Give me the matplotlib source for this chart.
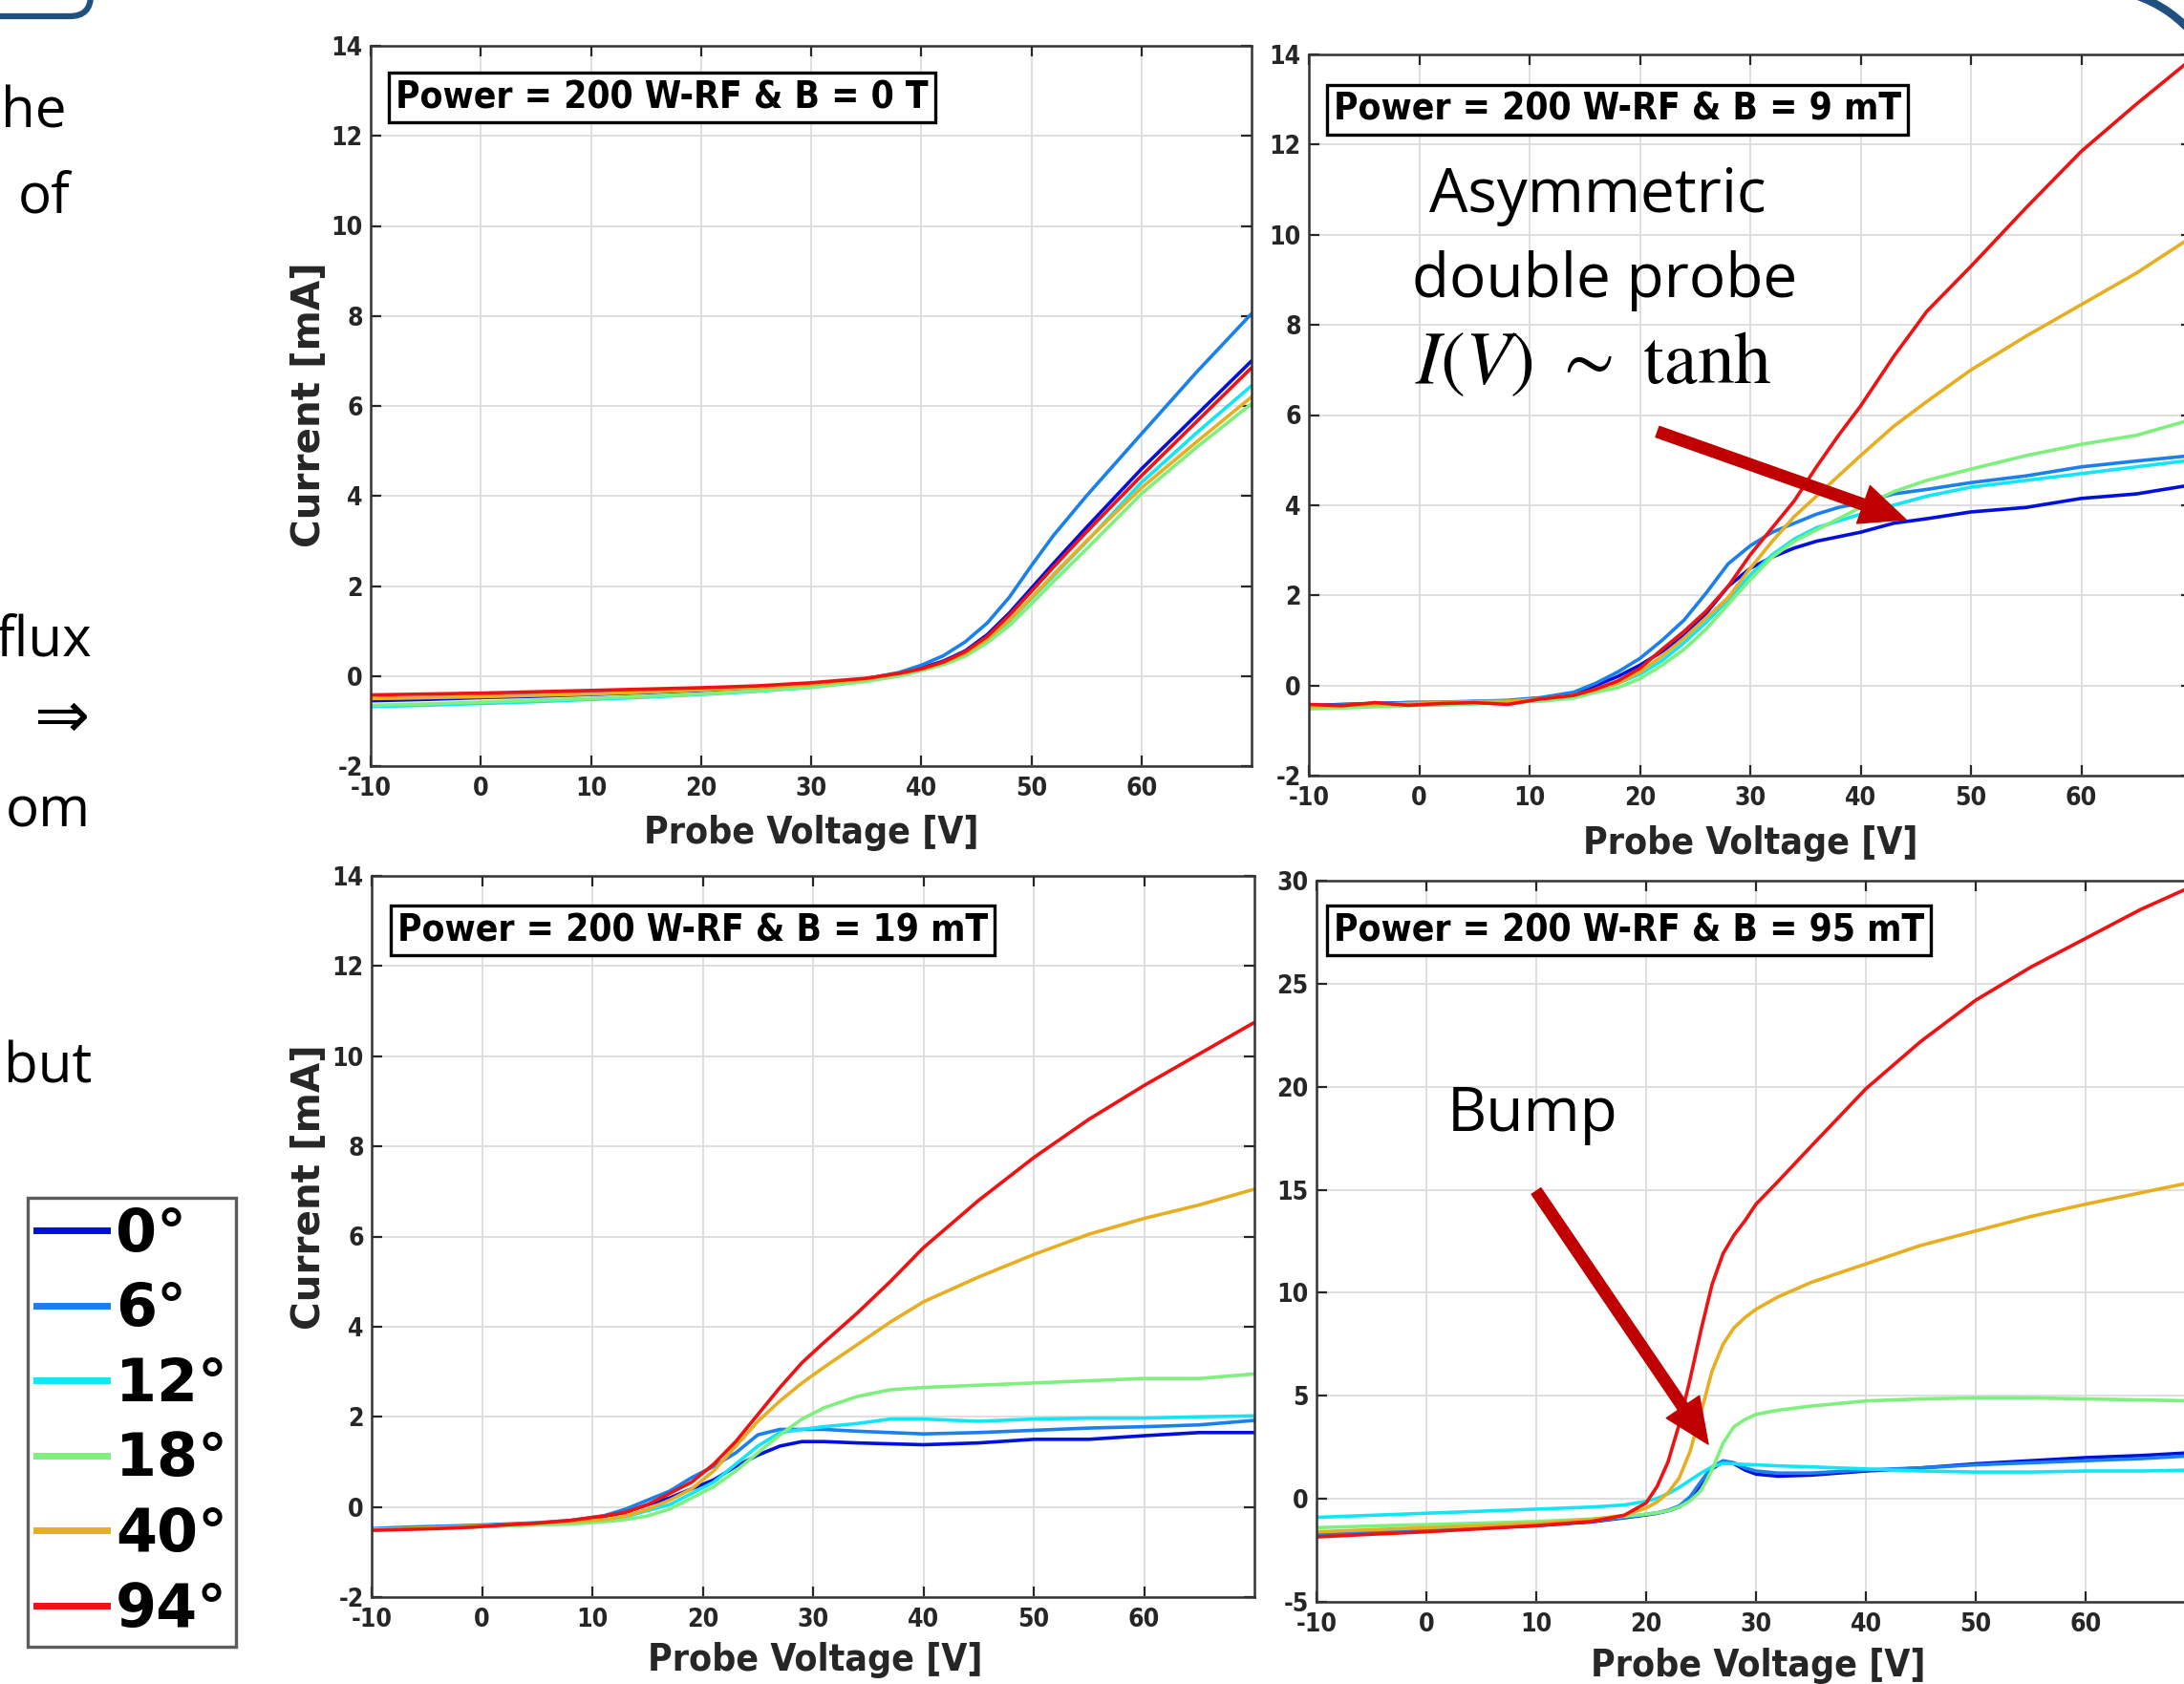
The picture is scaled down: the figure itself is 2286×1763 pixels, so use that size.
import matplotlib
matplotlib.use('Agg')
import matplotlib.pyplot as plt
from matplotlib.font_manager import FontProperties
from matplotlib.patches import FancyArrowPatch, FancyBboxPatch, Arc, ArrowStyle
from matplotlib.lines import Line2D

plt.rcParams['mathtext.fontset'] = 'stix'
plt.rcParams['axes.unicode_minus'] = False

W, H = 2286, 1763

# ---------------- data ----------------
angles = ['0°', '6°', '12°', '18°', '40°', '94°']
colors = ['#0010DC', '#1A80EE', '#12E6F6', '#7EF07E', '#E8AE22', '#F01212']

# Panel: B = 0 T
v_b0 = [-10, -5, 0, 5, 10, 15, 20, 25, 30, 35, 38, 40, 42, 44, 46, 48, 50, 52, 55, 60, 65, 70]
i_b0_0 = [-0.55, -0.52, -0.48, -0.45, -0.41, -0.37, -0.32, -0.26, -0.18, -0.06, 0.06, 0.18, 0.33, 0.56, 0.92, 1.4, 1.95, 2.5, 3.3, 4.6, 5.8, 7.0]
i_b0_6 = [-0.5, -0.48, -0.45, -0.42, -0.38, -0.34, -0.3, -0.25, -0.18, -0.06, 0.08, 0.24, 0.45, 0.76, 1.18, 1.75, 2.45, 3.12, 4.0, 5.38, 6.75, 8.05]
i_b0_12 = [-0.68, -0.65, -0.61, -0.57, -0.52, -0.47, -0.41, -0.34, -0.25, -0.11, 0.02, 0.14, 0.28, 0.48, 0.8, 1.22, 1.72, 2.22, 2.98, 4.3, 5.4, 6.45]
i_b0_18 = [-0.65, -0.62, -0.58, -0.54, -0.5, -0.45, -0.4, -0.33, -0.25, -0.12, 0.0, 0.12, 0.25, 0.44, 0.74, 1.12, 1.6, 2.1, 2.82, 4.05, 5.08, 6.05]
i_b0_40 = [-0.5, -0.48, -0.46, -0.43, -0.4, -0.36, -0.31, -0.26, -0.19, -0.07, 0.05, 0.15, 0.29, 0.5, 0.82, 1.24, 1.74, 2.25, 3.0, 4.18, 5.2, 6.2]
i_b0_94 = [-0.42, -0.4, -0.38, -0.35, -0.32, -0.29, -0.26, -0.22, -0.15, -0.05, 0.06, 0.16, 0.31, 0.54, 0.88, 1.35, 1.88, 2.42, 3.2, 4.45, 5.65, 6.85]

# Panel: B = 9 mT
v_b9 = [-10, -7, -4, -1, 2, 5, 8, 11, 14, 16, 18, 20, 22, 24, 26, 28, 30, 32, 34, 36, 38, 40, 43, 46, 50, 55, 60, 65, 70]
i_b9_0 = [-0.45, -0.42, -0.4, -0.38, -0.38, -0.36, -0.35, -0.28, -0.18, 0.0, 0.2, 0.45, 0.75, 1.1, 1.6, 2.2, 2.6, 2.85, 3.05, 3.2, 3.3, 3.4, 3.6, 3.7, 3.85, 3.95, 4.15, 4.25, 4.45]
i_b9_6 = [-0.45, -0.43, -0.4, -0.38, -0.37, -0.35, -0.33, -0.27, -0.15, 0.05, 0.3, 0.6, 1.0, 1.45, 2.05, 2.7, 3.1, 3.4, 3.6, 3.8, 3.95, 4.05, 4.25, 4.35, 4.5, 4.65, 4.85, 4.98, 5.1]
i_b9_12 = [-0.5, -0.48, -0.45, -0.43, -0.43, -0.4, -0.38, -0.33, -0.25, -0.1, 0.05, 0.25, 0.55, 0.95, 1.4, 1.9, 2.45, 2.9, 3.25, 3.5, 3.65, 3.8, 4.0, 4.2, 4.4, 4.55, 4.7, 4.85, 5.0]
i_b9_18 = [-0.52, -0.5, -0.47, -0.45, -0.43, -0.41, -0.38, -0.35, -0.28, -0.15, -0.05, 0.15, 0.45, 0.8, 1.25, 1.8, 2.35, 2.85, 3.2, 3.45, 3.7, 3.95, 4.3, 4.55, 4.8, 5.1, 5.35, 5.55, 5.9]
i_b9_40 = [-0.47, -0.45, -0.42, -0.4, -0.38, -0.36, -0.35, -0.3, -0.22, -0.1, 0.05, 0.3, 0.65, 1.05, 1.5, 1.95, 2.6, 3.2, 3.75, 4.2, 4.65, 5.1, 5.75, 6.3, 7.0, 7.75, 8.45, 9.15, 9.95]
i_b9_94 = [-0.42, -0.45, -0.38, -0.44, -0.4, -0.38, -0.42, -0.3, -0.22, -0.08, 0.1, 0.38, 0.8, 1.2, 1.65, 2.2, 2.9, 3.5, 4.1, 4.85, 5.55, 6.2, 7.3, 8.3, 9.3, 10.6, 11.85, 12.9, 13.9]

# Panel: B = 19 mT
v_b19 = [-10, -7, -4, -1, 2, 5, 8, 11, 13, 15, 17, 19, 21, 23, 25, 27, 29, 31, 34, 37, 40, 45, 50, 55, 60, 65, 70]
i_b19_0 = [-0.5, -0.48, -0.45, -0.42, -0.4, -0.37, -0.32, -0.22, -0.12, 0.05, 0.2, 0.4, 0.6, 0.9, 1.15, 1.35, 1.45, 1.45, 1.42, 1.4, 1.38, 1.42, 1.5, 1.5, 1.58, 1.65, 1.65]
i_b19_6 = [-0.48, -0.45, -0.43, -0.41, -0.38, -0.35, -0.3, -0.2, -0.05, 0.15, 0.35, 0.65, 0.9, 1.2, 1.6, 1.72, 1.72, 1.72, 1.68, 1.65, 1.62, 1.65, 1.7, 1.75, 1.78, 1.82, 1.92]
i_b19_12 = [-0.5, -0.48, -0.46, -0.44, -0.42, -0.39, -0.36, -0.3, -0.22, -0.08, 0.05, 0.3, 0.55, 0.95, 1.35, 1.65, 1.72, 1.78, 1.85, 1.95, 1.95, 1.9, 1.95, 1.97, 1.97, 2.0, 2.02]
i_b19_18 = [-0.5, -0.5, -0.47, -0.45, -0.42, -0.4, -0.38, -0.33, -0.28, -0.2, -0.05, 0.2, 0.45, 0.8, 1.2, 1.6, 1.95, 2.2, 2.45, 2.6, 2.65, 2.7, 2.75, 2.8, 2.85, 2.85, 2.95]
i_b19_40 = [-0.5, -0.48, -0.46, -0.43, -0.4, -0.36, -0.33, -0.28, -0.2, -0.05, 0.15, 0.4, 0.8, 1.35, 1.9, 2.35, 2.75, 3.1, 3.6, 4.1, 4.55, 5.1, 5.6, 6.05, 6.4, 6.7, 7.05]
i_b19_94 = [-0.52, -0.5, -0.48, -0.45, -0.4, -0.36, -0.3, -0.2, -0.12, 0.05, 0.3, 0.55, 0.95, 1.45, 2.05, 2.65, 3.2, 3.65, 4.3, 5.0, 5.75, 6.8, 7.75, 8.6, 9.35, 10.05, 10.75]

# Panel: B = 95 mT
v_b95 = [-10, -5, 0, 5, 10, 15, 18, 20, 21, 22, 23, 24, 25, 26, 27, 28, 29, 30, 32, 35, 40, 45, 50, 55, 60, 65, 70]
i_b95_0 = [-1.8, -1.68, -1.55, -1.42, -1.3, -1.12, -0.92, -0.78, -0.7, -0.58, -0.4, 0.0, 0.7, 1.45, 1.8, 1.7, 1.4, 1.2, 1.1, 1.15, 1.35, 1.5, 1.7, 1.85, 2.0, 2.1, 2.25]
i_b95_6 = [-1.75, -1.62, -1.5, -1.38, -1.25, -1.1, -0.9, -0.75, -0.68, -0.55, -0.35, 0.1, 0.85, 1.55, 1.85, 1.75, 1.5, 1.35, 1.25, 1.25, 1.4, 1.5, 1.65, 1.75, 1.85, 1.95, 2.1]
i_b95_12 = [-0.9, -0.8, -0.7, -0.6, -0.5, -0.4, -0.3, -0.12, 0.02, 0.25, 0.55, 0.9, 1.25, 1.55, 1.72, 1.7, 1.67, 1.65, 1.6, 1.55, 1.45, 1.35, 1.3, 1.3, 1.35, 1.35, 1.4]
i_b95_18 = [-1.4, -1.32, -1.25, -1.18, -1.1, -0.98, -0.85, -0.75, -0.68, -0.58, -0.4, -0.1, 0.4, 1.4, 2.7, 3.5, 3.85, 4.1, 4.3, 4.5, 4.75, 4.85, 4.9, 4.9, 4.85, 4.8, 4.75]
i_b95_40 = [-1.6, -1.5, -1.4, -1.3, -1.2, -1.0, -0.8, -0.45, -0.15, 0.3, 1.0, 2.3, 4.2, 6.2, 7.5, 8.3, 8.8, 9.2, 9.8, 10.5, 11.4, 12.3, 13.0, 13.7, 14.3, 14.85, 15.4]
i_b95_94 = [-1.85, -1.72, -1.6, -1.45, -1.3, -1.1, -0.8, -0.2, 0.6, 1.8, 3.6, 5.8, 8.2, 10.4, 11.9, 12.8, 13.5, 14.3, 15.4, 17.1, 19.9, 22.2, 24.2, 25.8, 27.2, 28.6, 29.8]

titles = ['Power = 200 W-RF & B = 0 T', 'Power = 200 W-RF & B = 9 mT',
          'Power = 200 W-RF & B = 19 mT', 'Power = 200 W-RF & B = 95 mT']
xticks = [-10, 0, 10, 20, 30, 40, 50, 60]
yticks_low = [-2, 0, 2, 4, 6, 8, 10, 12, 14]
yticks_high = [-5, 0, 5, 10, 15, 20, 25, 30]

# ---------------- figure ----------------
fig = plt.figure(figsize=(W / 100, H / 100), dpi=100)
renderer = fig.canvas.get_renderer()

COND = ['DejaVu Sans Condensed', 'DejaVu Sans']


def fitted(text, fp, target_px):
    t = fig.text(0, 0, text, fontproperties=fp)
    w = t.get_window_extent(renderer).width
    t.remove()
    fp = fp.copy()
    fp.set_size(fp.get_size_in_points() * target_px / w)
    return fp


tick_fp = fitted('-10', FontProperties(family=COND, weight='bold', stretch='condensed', size=19), 43)
title_fp = fitted(titles[0], FontProperties(family=COND, weight='bold', stretch='condensed', size=28), 558)
xlab_fp = fitted('Probe Voltage [V]', FontProperties(family=COND, weight='bold', stretch='condensed', size=26), 351)
ylab_fp = fitted('Current [mA]', FontProperties(family='DejaVu Sans', weight='bold', size=28), 299)
leg_fp = fitted('12°', FontProperties(family='DejaVu Sans', weight='bold', size=45), 117)


def px_rect(l, t, r, b):
    return [l / W, 1 - b / H, (r - l) / W, (b - t) / H]


panels = [
    (px_rect(388, 48, 1310, 802), v_b0, [i_b0_0, i_b0_6, i_b0_12, i_b0_18, i_b0_40, i_b0_94], (-2, 14), yticks_low),
    (px_rect(1370, 57, 2294, 812), v_b9, [i_b9_0, i_b9_6, i_b9_12, i_b9_18, i_b9_40, i_b9_94], (-2, 14), yticks_low),
    (px_rect(389, 917, 1313, 1672), v_b19, [i_b19_0, i_b19_6, i_b19_12, i_b19_18, i_b19_40, i_b19_94], (-2, 14), yticks_low),
    (px_rect(1378, 922, 2298, 1677), v_b95, [i_b95_0, i_b95_6, i_b95_12, i_b95_18, i_b95_40, i_b95_94], (-5, 30), yticks_high),
]

for rect, vx, series, ylim, yt in panels:
    ax = fig.add_axes(rect)
    for ys, c in zip(series, colors):
        ax.plot(vx, ys, color=c, lw=2.6, solid_capstyle='round', solid_joinstyle='round')
    ax.set_xlim(-10, 70)
    ax.set_ylim(*ylim)
    ax.set_xticks(xticks)
    ax.set_yticks(yt)
    ax.grid(True, color='#DCDCDC', linewidth=1.3)
    ax.set_axisbelow(True)
    ax.tick_params(direction='in', length=8, width=1.6, top=True, right=True,
                   colors='#262626', pad=6)
    ax.tick_params(axis='x', pad=8)
    for lab in ax.get_xticklabels() + ax.get_yticklabels():
        lab.set_fontproperties(tick_fp)
    for s in ax.spines.values():
        s.set_linewidth(1.8)
        s.set_color('#333333')

# title boxes (text left x, baseline y in px)
title_pos = [(414, 113), (1396, 126), (416, 985), (1396, 985)]
for (tx, ty), t in zip(title_pos, titles):
    fig.text(tx / W, 1 - ty / H, t, fontproperties=title_fp, ha='left', va='baseline',
             color='black',
             bbox=dict(boxstyle='square,pad=0.18', fc='white', ec='black', lw=2.4))

# axis labels
for (cx, cy) in [(849, 872), (1832, 883), (853, 1738), (1840, 1744)]:
    fig.text(cx / W, 1 - cy / H, 'Probe Voltage [V]', fontproperties=xlab_fp,
             ha='center', va='center', color='#262626')
for (cx, cy) in [(324, 424), (324, 1243)]:
    fig.text(cx / W, 1 - cy / H, 'Current [mA]', fontproperties=ylab_fp, rotation=90,
             ha='center', va='center', color='#262626')

# legend
handles = [Line2D([], [], color=c, lw=5) for c in colors]
leg = fig.legend(handles, angles, loc='upper left', bbox_to_anchor=(29 / W, 1 - 1254 / H),
                 borderaxespad=0, frameon=True, fancybox=False, handlelength=1.2,
                 handletextpad=0.15, labelspacing=0.3,
                 borderpad=0.14, prop=leg_fp)
leg.get_frame().set_edgecolor('#333333')
leg.get_frame().set_linewidth(2.4)

# annotations
ann_fp = dict(family=['Open Sans', 'DejaVu Sans'], fontsize=46, color='black')
fig.text(1672 / W, 1 - 222 / H, 'Asymmetric', ha='center', va='baseline', **ann_fp)
fig.text(1680 / W, 1 - 311 / H, 'double probe', ha='center', va='baseline', **ann_fp)
fig.text(1668 / W, 1 - 401 / H, r'$I(V)\ \sim\ \mathrm{tanh}$', ha='center', va='baseline',
         fontsize=56, color='black')
fig.text(1604 / W, 1 - 1184 / H, 'Bump', ha='center', va='baseline', **ann_fp)

astyle = ArrowStyle('simple', head_length=34, head_width=30, tail_width=8.5)
for (x0, y0), (x1, y1) in [((1735, 452), (1995, 544)), ((1608, 1247), (1788, 1512))]:
    arr = FancyArrowPatch((x0 / W, 1 - y0 / H), (x1 / W, 1 - y1 / H), transform=fig.transFigure,
                          arrowstyle=astyle, mutation_scale=1, color='#C00000',
                          shrinkA=0, shrinkB=0)
    fig.patches.append(arr)

# left text fragments (cropped slide text)
side_fp = dict(family=['Open Sans', 'DejaVu Sans'], fontsize=42, color='black')
for txt, rx, by in [('he', 70, 134), ('of', 73, 223), ('flux', 96, 688),
                    ('om', 95, 866), ('but', 96, 1134)]:
    fig.text(rx / W, 1 - by / H, txt, ha='right', va='baseline', **side_fp)
fig.text(93 / W, 1 - 772 / H, '⇒', ha='right', va='baseline', family='DejaVu Sans',
         fontsize=50, color='black')

# slide decorations
deco = '#1F5080'
box = FancyBboxPatch((-3.0, (H - 17) / 100), 3.95, 3.0,
                     boxstyle='round,pad=0,rounding_size=0.22',
                     transform=fig.dpi_scale_trans, fill=False, ec=deco, lw=4.5, clip_on=False)
fig.patches.append(box)
arc = Arc((21.92, (H - 124) / 100), 2.72, 2.72, theta1=20, theta2=90,
          transform=fig.dpi_scale_trans, color=deco, lw=6, clip_on=False)
fig.patches.append(arc)

fig.savefig('out.png', dpi=100)
